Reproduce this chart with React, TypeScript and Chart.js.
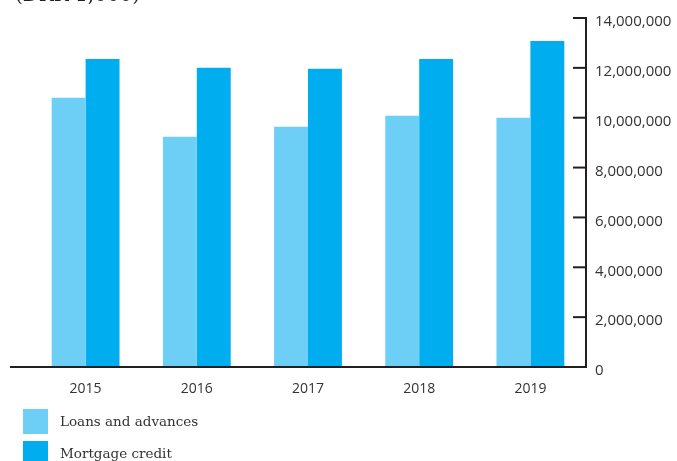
import React, { useEffect, useRef } from "react";
import { Chart, registerables } from "chart.js";

Chart.register(...registerables);

const categories = ["2015", "2016", "2017", "2018", "2019"];
const loansAndAdvances = [10800000, 9240000, 9640000, 10080000, 10000000];
const mortgageCredit = [12360000, 12000000, 11960000, 12360000, 13080000];
const seriesLabels = ["Loans and advances", "Mortgage credit"];
const titleText = "(DKK 1,000)";
const yMax = 14000000;
const yStep = 2000000;

const LIGHT = "#6dcff6";
const DARK = "#00aeef";
const AXIS = "#231f20";

const axesPlugin = {
  id: "customAxes",
  afterDatasetsDraw(chart: any) {
    const { ctx, chartArea, scales } = chart;
    const y = scales.y;
    const yb = y.getPixelForValue(0);
    const yt = y.getPixelForValue(yMax);
    const xr = chartArea.right;
    ctx.save();
    ctx.strokeStyle = AXIS;
    ctx.lineWidth = 2;
    ctx.beginPath();
    ctx.moveTo(10, yb);
    ctx.lineTo(xr + 1, yb);
    ctx.stroke();
    ctx.beginPath();
    ctx.moveTo(xr, yt - 1);
    ctx.lineTo(xr, yb + 1);
    ctx.stroke();
    y.ticks.forEach((t: any) => {
      const py = y.getPixelForValue(t.value);
      if (t.value === 0) return;
      ctx.beginPath();
      ctx.moveTo(xr - 13, py);
      ctx.lineTo(xr, py);
      ctx.stroke();
    });
    ctx.restore();
  },
  afterDraw(chart: any) {
    const { ctx } = chart;
    ctx.save();
    ctx.fillStyle = "#231f20";
    ctx.font = "20px 'DejaVu Serif'";
    ctx.textBaseline = "alphabetic";
    ctx.textAlign = "left";
    ctx.fillText(titleText, 15, 1);
    // legend
    const ds = chart.data.datasets;
    ds.forEach((d: any, i: number) => {
      const top = 409 + i * 32;
      ctx.fillStyle = d.backgroundColor;
      ctx.fillRect(23, top, 25, 25);
      ctx.fillStyle = "#333333";
      ctx.font = "13.5px 'DejaVu Serif'";
      ctx.textBaseline = "middle";
      ctx.fillText(d.label, 60, top + 13);
    });
    ctx.restore();
  },
};

export default function App() {
  const ref = useRef<HTMLCanvasElement>(null);
  useEffect(() => {
    if (!ref.current) return;
    const chart = new Chart(ref.current, {
      type: "bar",
      data: {
        labels: categories,
        datasets: [
          { label: seriesLabels[0], data: loansAndAdvances, backgroundColor: LIGHT },
          { label: seriesLabels[1], data: mortgageCredit, backgroundColor: DARK },
        ],
      },
      options: {
        responsive: false,
        animation: false,
        layout: { padding: { left: 30, top: 16, right: 0, bottom: 64 } },
        plugins: {
          legend: { display: false },
          title: { display: false },
          tooltip: { enabled: false },
        },
        datasets: { bar: { barPercentage: 1, categoryPercentage: 0.61 } },
        scales: {
          x: {
            grid: { display: false },
            border: { display: false },
            ticks: {
              color: "#333333",
              font: { family: "'Open Sans'", size: 14 },
              padding: 6,
            },
            afterFit(scale: any) {
              scale.height = 30;
            },
          },
          y: {
            position: "right",
            min: 0,
            max: yMax,
            grid: { display: false, drawTicks: false },
            border: { display: false },
            ticks: {
              stepSize: yStep,
              color: "#333333",
              padding: 9,
              labelOffset: 4,
              font: { family: "'Open Sans'", size: 15 },
              callback: (v: any) => Number(v).toLocaleString("en-US"),
            },
            afterFit(scale: any) {
              scale.width = 91;
            },
          },
        },
      },
      plugins: [axesPlugin],
    } as any);
    return () => chart.destroy();
  }, []);
  return (
    <div style={{ position: "fixed", left: 0, top: 0, width: 677, height: 461, background: "#fff" }}>
      <canvas ref={ref} width={677} height={461} style={{ display: "block" }} />
    </div>
  );
}
